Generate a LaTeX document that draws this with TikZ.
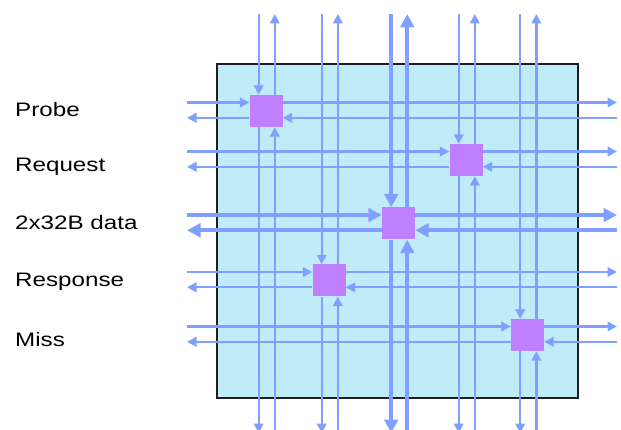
\documentclass[tikz,border=0pt]{standalone}
\usepackage{fontspec}
\setmainfont{Liberation Sans}
\usetikzlibrary{arrows.meta}
\definecolor{netc}{RGB}{128,160,255}
\definecolor{nodec}{RGB}{191,128,255}
\definecolor{boxc}{RGB}{192,236,250}
\definecolor{edgec}{RGB}{30,30,30}
\tikzset{
  thinnet/.style={draw=netc, line width=2.4pt, -{Triangle[length=9.5pt,width=9.5pt]}},
  thicknet/.style={draw=netc, line width=4pt, -{Triangle[length=13.5pt,width=13.5pt]}},
  switchbox/.style={fill=nodec, draw=none, minimum width=33pt, minimum height=32pt, inner sep=0pt},
  chipbox/.style={fill=boxc, draw=edgec, line width=1.2pt, minimum width=361pt, minimum height=334pt, inner sep=0pt},
  lab/.style={anchor=base west, inner sep=0pt, font=\fontsize{19.5}{23}\selectfont}
}
\begin{document}
\begin{tikzpicture}[x=1pt,y=-1pt]
\useasboundingbox (0,0) rectangle (621,430);
\node[chipbox] (chip) at (397.5,231) {};
\coordinate (lft) at (187,0);
\coordinate (rgt) at (617,0);
\coordinate (top) at (0,14);
\coordinate (bot) at (0,433);
\foreach \n/\cx/\cy/\st in {p/266/111/thinnet, q/466/160/thinnet, d/398.5/223.5/thicknet, r/329/280.5/thinnet, m/527.5/335/thinnet} {
  \node[switchbox] (\n) at (\cx,\cy) {};
  \coordinate (\n Tw) at ([yshift=8.5pt]\n.west);
  \coordinate (\n Te) at ([yshift=8.5pt]\n.east);
  \coordinate (\n Bw) at ([yshift=-6.8pt]\n.west);
  \coordinate (\n Be) at ([yshift=-6.8pt]\n.east);
  \coordinate (\n Ln) at ([xshift=-7.3pt]\n.north);
  \coordinate (\n Ls) at ([xshift=-7.3pt]\n.south);
  \coordinate (\n Rn) at ([xshift=8.8pt]\n.north);
  \coordinate (\n Rs) at ([xshift=8.8pt]\n.south);
  \draw[\st] (\n Tw -| lft) -- (\n Tw);
  \draw[\st] (\n Te) -- (\n Te -| rgt);
  \draw[\st] (\n Be -| rgt) -- (\n Be);
  \draw[\st] (\n Bw) -- (\n Bw -| lft);
  \draw[\st] (\n Ln |- top) -- (\n Ln);
  \draw[\st] (\n Ls) -- (\n Ls |- bot);
  \draw[\st] (\n Rs |- bot) -- (\n Rs);
  \draw[\st] (\n Rn) -- (\n Rn |- top);
  \node[switchbox] at (\n) {};
}
\node[lab] (lprobe) at (15,117) {\scalebox{1.24}[1]{Probe}};
\node[lab] (lreq) at (15,171.5) {\scalebox{1.24}[1]{Request}};
\node[lab] (ldata) at (15,230) {\scalebox{1.24}[1]{2x32B data}};
\node[lab] (lresp) at (15,287) {\scalebox{1.24}[1]{Response}};
\node[lab] (lmiss) at (15,346.5) {\scalebox{1.24}[1]{Miss}};
\end{tikzpicture}
\end{document}
